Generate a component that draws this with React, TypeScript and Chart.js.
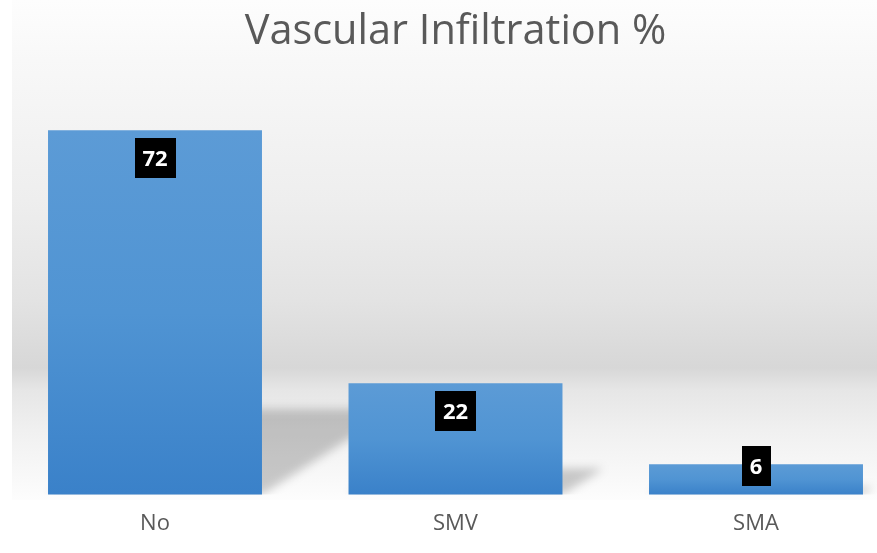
import React, { useEffect, useRef } from "react";
import { Chart, registerables } from "chart.js";

Chart.register(...registerables);

const categories = ["No", "SMV", "SMA"];
const values = [72, 22, 6];
const titleText = "Vascular Infiltration %";
const yMax = 80;

const FONT = '"Open Sans", "Noto Sans", sans-serif';

export default function App() {
  const ref = useRef<HTMLCanvasElement>(null);

  useEffect(() => {
    const canvas = ref.current!;

    const bgPlugin = {
      id: "bgGradient",
      beforeDraw(chart: any) {
        const { ctx, width, height } = chart;
        ctx.save();
        ctx.fillStyle = "#ffffff";
        ctx.fillRect(0, 0, width, height);
        const g = ctx.createLinearGradient(0, 0, 0, 500);
        g.addColorStop(0, "#fdfdfd");
        g.addColorStop(0.12, "#f8f8f8");
        g.addColorStop(0.4, "#eeeeee");
        g.addColorStop(0.6, "#e3e3e3");
        g.addColorStop(0.735, "#d7d7d7");
        g.addColorStop(0.78, "#e6e6e6");
        g.addColorStop(0.86, "#f0f0f0");
        g.addColorStop(0.96, "#f9f9f9");
        g.addColorStop(1, "#fdfdfd");
        ctx.fillStyle = g;
        ctx.fillRect(12, 0, width - 12, 500);
        ctx.restore();
      },
    };

    const shadowPlugin = {
      id: "barShadow",
      beforeDatasetsDraw(chart: any) {
        const meta = chart.getDatasetMeta(0);
        const ctx = chart.ctx;
        const base0 = chart.scales.y.getPixelForValue(0);
        ctx.save();
        ctx.beginPath();
        ctx.rect(0, 0, chart.width, base0);
        ctx.clip();
        ctx.filter = "blur(5px)";
        ctx.fillStyle = "rgba(0,0,0,0.2)";
        meta.data.forEach((bar: any) => {
          const { x, y, base, width } = bar.getProps(["x", "y", "base", "width"], true);
          const h = base - y;
          const l = x - width / 2;
          const r = x + width / 2;
          const dx = h * 0.366;
          const dy = h * 0.234;
          ctx.beginPath();
          ctx.moveTo(l, base);
          ctx.lineTo(r, base);
          ctx.lineTo(r + dx, base - dy);
          ctx.lineTo(l + dx, base - dy);
          ctx.closePath();
          ctx.fill();
        });
        ctx.restore();
      },
    };

    const labelPlugin = {
      id: "boxLabels",
      afterDatasetsDraw(chart: any) {
        const meta = chart.getDatasetMeta(0);
        const ctx = chart.ctx;
        ctx.save();
        ctx.font = `bold 22px ${FONT}`;
        ctx.textAlign = "center";
        ctx.textBaseline = "middle";
        meta.data.forEach((bar: any, i: number) => {
          const { x, y, base } = bar.getProps(["x", "y", "base"], true);
          const text = String(values[i]);
          const tw = ctx.measureText(text).width;
          const bw = Math.round(tw + 16);
          const bh = 40;
          const h = base - y;
          const cy = h > bh + 16 ? y + 8 + bh / 2 : y + 2;
          ctx.fillStyle = "#000000";
          ctx.fillRect(Math.round(x - bw / 2), Math.round(cy - bh / 2), bw, bh);
          ctx.fillStyle = "#ffffff";
          ctx.fillText(text, x, cy + 1);
        });
        ctx.restore();
      },
    };

    const chart = new Chart(canvas, {
      type: "bar",
      data: {
        labels: categories,
        datasets: [
          {
            data: values,
            clip: false as any,
            backgroundColor: (c: any) => {
              const ch = c.chart;
              const ys = ch.scales && ch.scales.y;
              if (!ch.chartArea || !ys || c.dataIndex === undefined) return "#4a8fd2";
              const top = ys.getPixelForValue(values[c.dataIndex]);
              const bottom = ys.getPixelForValue(0);
              const g = ch.ctx.createLinearGradient(0, top, 0, bottom);
              g.addColorStop(0, "#5c9bd6");
              g.addColorStop(0.5, "#5094d3");
              g.addColorStop(1, "#3a81c9");
              return g;
            },
            borderWidth: 0,
            categoryPercentage: 1,
            barPercentage: 0.712,
          },
        ],
      },
      options: {
        responsive: false,
        animation: false,
        devicePixelRatio: 1,
        layout: { padding: { left: 155, right: 121, top: 0, bottom: 0 } },
        plugins: {
          legend: { display: false },
          tooltip: { enabled: false },
          title: {
            display: true,
            text: titleText,
            color: "#595959",
            font: { family: FONT, size: 41.5, weight: "normal" },
            padding: { top: 7, bottom: 33 },
          },
        },
        scales: {
          x: {
            offset: false,
            grid: { display: false, drawTicks: false },
            border: { display: false },
            ticks: {
              color: "#595959",
              font: { family: FONT, size: 22 },
              padding: 16,
            },
          },
          y: { display: false, min: 0, max: yMax },
        },
      },
      plugins: [bgPlugin, shadowPlugin, labelPlugin],
    });

    return () => chart.destroy();
  }, []);

  return (
    <div style={{ position: "absolute", left: 0, top: 0, width: 877, height: 553 }}>
      <canvas ref={ref} width={877} height={553} style={{ display: "block" }} />
    </div>
  );
}
